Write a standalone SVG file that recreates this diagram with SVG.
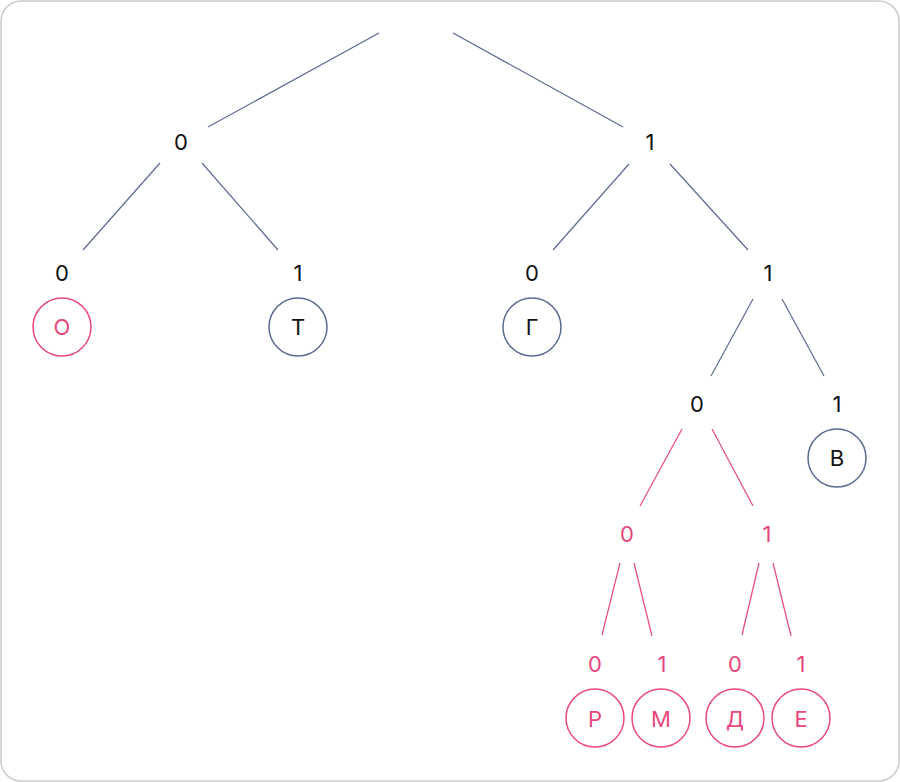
<svg xmlns="http://www.w3.org/2000/svg" width="900" height="782" viewBox="0 0 900 782">
<style>
.e{stroke:#5a6a90;stroke-width:1.2;fill:none}
.ep{stroke:#e9477c;stroke-width:1.2;fill:none}
.c{fill:#fff;stroke:#5a6a90;stroke-width:1.5}
.cp{fill:#fff;stroke:#e9477c;stroke-width:1.5}
text{font-family:Inter,"Noto Sans",sans-serif;font-size:22px;text-anchor:middle;fill:#111}
.p{fill:#e9477c}
</style>
<rect x="1" y="1" width="898" height="780" rx="20" fill="#fff" stroke="#cccccc" stroke-width="1.5"/>
<g id="connectors">
<line class="e" x1="379" y1="33" x2="208" y2="127"/>
<line class="e" x1="453" y1="33" x2="623" y2="127"/>
<line class="e" x1="160" y1="163" x2="83" y2="250"/>
<line class="e" x1="202" y1="163" x2="278" y2="250"/>
<line class="e" x1="629" y1="164" x2="553" y2="250"/>
<line class="e" x1="670" y1="164" x2="748" y2="250"/>
<line class="e" x1="753" y1="299" x2="711" y2="376"/>
<line class="e" x1="782" y1="299" x2="824" y2="376"/>
<line class="ep" x1="682" y1="429" x2="640" y2="506"/>
<line class="ep" x1="712" y1="429" x2="753" y2="506"/>
<line class="ep" x1="620" y1="563" x2="602" y2="635"/>
<line class="ep" x1="634" y1="563" x2="652" y2="636"/>
<line class="ep" x1="759" y1="563" x2="742" y2="635"/>
<line class="ep" x1="773" y1="563" x2="791" y2="636"/>
</g>
<g id="n-0"><text x="181" y="150">0</text></g>
<g id="n-1"><text x="650" y="150">1</text></g>
<g id="n-00"><text x="62" y="281">0</text><circle class="cp" cx="62" cy="327" r="29"/><text class="p" x="62" y="335">О</text></g>
<g id="n-01"><text x="298" y="281">1</text><circle class="c" cx="298" cy="327" r="29"/><text x="298" y="335">Т</text></g>
<g id="n-10"><text x="532" y="281">0</text><circle class="c" cx="532" cy="327" r="29"/><text x="532" y="335">Г</text></g>
<g id="n-11"><text x="768" y="281">1</text></g>
<g id="n-110"><text x="697" y="412">0</text></g>
<g id="n-111"><text x="837" y="412">1</text><circle class="c" cx="837" cy="458" r="29"/><text x="837" y="466">В</text></g>
<g id="n-1100"><text class="p" x="627" y="542">0</text></g>
<g id="n-1101"><text class="p" x="767" y="542">1</text></g>
<g id="n-11000"><text class="p" x="595" y="672">0</text><circle class="cp" cx="595" cy="718" r="29"/><text class="p" x="595" y="727">Р</text></g>
<g id="n-11001"><text class="p" x="662" y="672">1</text><circle class="cp" cx="661" cy="718" r="29"/><text class="p" x="661" y="727">М</text></g>
<g id="n-11010"><text class="p" x="735" y="672">0</text><circle class="cp" cx="735" cy="718" r="29"/><text class="p" x="735" y="727">Д</text></g>
<g id="n-11011"><text class="p" x="801" y="672">1</text><circle class="cp" cx="801" cy="718" r="29"/><text class="p" x="801" y="727">Е</text></g>
</svg>
